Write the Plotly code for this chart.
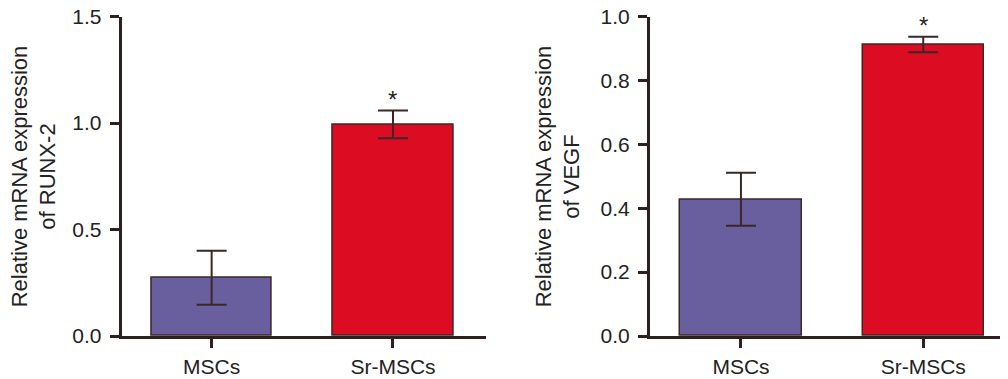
import plotly.graph_objects as go

categories = ["MSCs", "Sr-MSCs"]
runx2_values = [0.274, 0.994]
runx2_errors = [0.127, 0.065]
vegf_values = [0.428, 0.913]
vegf_errors = [0.083, 0.024]
significance = ["", "*"]
runx2_ticks = [0.0, 0.5, 1.0, 1.5]
vegf_ticks = [0.0, 0.2, 0.4, 0.6, 0.8, 1.0]

bar_colors = ["#6A5F9E", "#DC0D23"]
dark = "#2E2020"
font_family = "Liberation Sans, Arial, sans-serif"

# page body has an 8px margin, so the figure is 8px smaller than the window
W, H = 1000, 371
OFF = 8

fig = go.Figure()

fig.add_trace(go.Bar(
    x=categories, y=runx2_values, width=0.665,
    marker=dict(color=bar_colors, line=dict(color="#3A2828", width=1.5)),
    error_y=dict(type="data", array=runx2_errors, visible=True,
                 color="#3A2828", thickness=2, width=15),
    xaxis="x", yaxis="y", showlegend=False,
))
fig.add_trace(go.Bar(
    x=categories, y=vegf_values, width=0.665,
    marker=dict(color=bar_colors, line=dict(color="#3A2828", width=1.5)),
    error_y=dict(type="data", array=vegf_errors, visible=True,
                 color="#3A2828", thickness=2, width=15),
    xaxis="x2", yaxis="y2", showlegend=False,
))

# significance stars
for xa, ya, vals, errs in [("x", "y", runx2_values, runx2_errors),
                           ("x2", "y2", vegf_values, vegf_errors)]:
    for cat, v, e, s in zip(categories, vals, errs, significance):
        if s:
            fig.add_annotation(x=cat, y=v + e, xref=xa, yref=ya, text=s,
                               showarrow=False, yanchor="bottom", yshift=-4,
                               font=dict(size=24, color="#222222", family=font_family))

ydom = [1 - (336 - OFF) / H, 1 - (16.7 - OFF) / H]
axis_common = dict(showline=True, linecolor=dark, linewidth=3, ticks="outside",
                   tickcolor=dark, tickwidth=3, ticklen=9, showgrid=False,
                   zeroline=False, automargin=False, ticklabeloverflow="allow",
                   tickfont=dict(size=21, color="#222222", family=font_family))

fig.update_layout(
    width=W, height=H,
    margin=dict(l=0, r=0, t=0, b=0, autoexpand=False),
    paper_bgcolor="white", plot_bgcolor="white",
    bargap=0,
    xaxis=dict(domain=[(121.7 - OFF) / W, (486 - OFF) / W], range=[-0.496, 1.513],
               anchor="y", ticklabelstandoff=1, **axis_common),
    yaxis=dict(domain=ydom, range=[0, 1.5], anchor="x", tickvals=runx2_ticks,
               tickformat=".1f", ticklabelstandoff=4, **axis_common),
    xaxis2=dict(domain=[(650 - OFF) / W, 1.0], range=[-0.499, 1.465],
                anchor="y2", ticklabelstandoff=1, **axis_common),
    yaxis2=dict(domain=ydom, range=[0, 1.0], anchor="x2", tickvals=vegf_ticks,
                tickformat=".1f", ticklabelstandoff=4, **axis_common),
)

fig.add_annotation(x=(34 - OFF) / W, y=(ydom[0] + ydom[1]) / 2, xref="paper", yref="paper",
                   text="Relative mRNA expression<br>of RUNX-2", textangle=-90,
                   showarrow=False, xanchor="center", yanchor="middle",
                   font=dict(size=22, color="#222222", family=font_family))
fig.add_annotation(x=(558 - OFF) / W, y=(ydom[0] + ydom[1]) / 2, xref="paper", yref="paper",
                   text="Relative mRNA expression<br>of VEGF", textangle=-90,
                   showarrow=False, xanchor="center", yanchor="middle",
                   font=dict(size=22, color="#222222", family=font_family))

fig.write_html("out.html")
